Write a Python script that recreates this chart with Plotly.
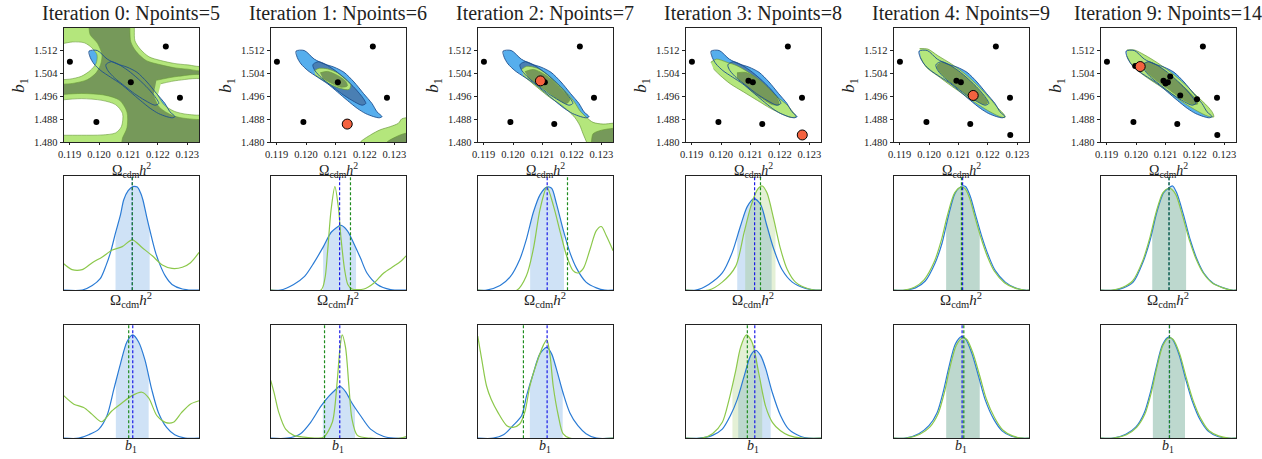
import numpy as np
import plotly.graph_objects as go

# ---------------------------------------------------------------- data
iterations = [0, 1, 2, 3, 4, 9]
npoints = [5, 6, 7, 8, 9, 14]

omega_range = [0.1188, 0.1234]
b1_range = [1.480, 1.520]
omega_ticks = [0.119, 0.120, 0.121, 0.122, 0.123]
omega_tick_labels = ["0.119", "0.120", "0.121", "0.122", "0.123"]
b1_ticks = [1.480, 1.488, 1.496, 1.504, 1.512]
b1_tick_labels = ["1.480", "1.488", "1.496", "1.504", "1.512"]

# training points in order of acquisition
points_omega = [0.11901, 0.12227, 0.12108, 0.12275, 0.11991, 0.12140, 0.12093,
                0.12276, 0.12150, 0.12116, 0.12207, 0.11997, 0.12100, 0.12014]
points_b1 = [1.5081, 1.5134, 1.5009, 1.4955, 1.4870, 1.4863, 1.5014,
             1.4825, 1.4963, 1.5029, 1.4950, 1.5066, 1.5005, 1.5064]

# reference (MCMC) 2D contours  [omega, b1]
blue95 = [[0.11966, 1.5118], [0.11994, 1.5120], [0.12028, 1.5090], [0.12062, 1.5073], [0.12095, 1.5062],
          [0.12129, 1.5044], [0.12163, 1.5010], [0.12196, 1.4969], [0.12224, 1.4935], [0.12241, 1.4906],
          [0.12258, 1.4889], [0.12249, 1.4885], [0.12230, 1.4889], [0.12202, 1.4900], [0.12174, 1.4918],
          [0.12140, 1.4946], [0.12107, 1.4975], [0.12073, 1.5004], [0.12039, 1.5027], [0.12006, 1.5050],
          [0.11983, 1.5073], [0.11970, 1.5096]]
blue68 = [[0.12025, 1.5073], [0.12042, 1.5081], [0.12064, 1.5073], [0.12099, 1.5050], [0.12133, 1.5021],
          [0.12167, 1.4987], [0.12195, 1.4952], [0.12203, 1.4935], [0.12190, 1.4929], [0.12156, 1.4946],
          [0.12121, 1.4969], [0.12087, 1.4996], [0.12053, 1.5024], [0.12030, 1.5050], [0.12023, 1.5067]]

# emulator contours, iteration 0 (95% region = everything but white holes,
# 68% region = everything but the light bands)
it0_white_holes = [
    [[0.1186, 1.5140], [0.1191, 1.5150], [0.1195, 1.5147], [0.11975, 1.5130], [0.11993, 1.5105],
     [0.1199, 1.5075], [0.1197, 1.5050], [0.1194, 1.5030], [0.1190, 1.5020], [0.1186, 1.5018]],
    [[0.1212, 1.5215], [0.1212, 1.5192], [0.12122, 1.5154], [0.1214, 1.5125], [0.1217, 1.5098],
     [0.1221, 1.5085], [0.12255, 1.5075], [0.1230, 1.5070], [0.1236, 1.5068], [0.1236, 1.5215]],
    [[0.1221, 1.5004], [0.1227, 1.5016], [0.1236, 1.5016], [0.1236, 1.4900], [0.1230, 1.4897],
     [0.12255, 1.4908], [0.1222, 1.4931], [0.1220, 1.4964]],
    [[0.1186, 1.4946], [0.1194, 1.4952], [0.1201, 1.4946], [0.12056, 1.4931], [0.1208, 1.4900],
     [0.12076, 1.4854], [0.12056, 1.4832], [0.1201, 1.4825], [0.1194, 1.4824], [0.1186, 1.4824]],
]
it0_light_regions = [
    [[0.1186, 1.5215], [0.1196, 1.5215], [0.1197, 1.5175], [0.11995, 1.5145], [0.1201, 1.5105],
     [0.12005, 1.5070], [0.1199, 1.5042], [0.1196, 1.5018], [0.1191, 1.5005], [0.1186, 1.5002]],
    [[0.12105, 1.5215], [0.12105, 1.5185], [0.12108, 1.5150], [0.12125, 1.5118], [0.1216, 1.5085],
     [0.1221, 1.5070], [0.12255, 1.5060], [0.1230, 1.5055], [0.1236, 1.5053], [0.1236, 1.5215]],
    [[0.12195, 1.5016], [0.1227, 1.5030], [0.1236, 1.5030], [0.1236, 1.4885], [0.1230, 1.4882],
     [0.1225, 1.4893], [0.12205, 1.4922], [0.12185, 1.4964]],
    [[0.1186, 1.4965], [0.1194, 1.4970], [0.1202, 1.4964], [0.1207, 1.4946], [0.12095, 1.4905],
     [0.12095, 1.4850], [0.1208, 1.4815], [0.1207, 1.4780], [0.1186, 1.4780]],
]

green95_it1 = [
    [[0.12028, 1.5050], [0.12045, 1.5058], [0.12073, 1.5056], [0.12107, 1.5042], [0.12135, 1.5021],
     [0.12152, 1.5001], [0.12146, 1.4984], [0.12118, 1.4987], [0.12084, 1.5001], [0.12051, 1.5021],
     [0.12031, 1.5035]],
    [[0.12185, 1.4790], [0.12185, 1.4800], [0.12219, 1.4825], [0.12252, 1.4843], [0.12286, 1.4854],
     [0.12314, 1.4866], [0.12325, 1.4881], [0.12340, 1.4885], [0.1236, 1.4885], [0.1236, 1.4790]],
]
green68_it1 = [
    [[0.12048, 1.5042], [0.12073, 1.5047], [0.12107, 1.5033], [0.12135, 1.5012], [0.12140, 1.4996],
     [0.12118, 1.4992], [0.12084, 1.5007], [0.12056, 1.5024]],
    [[0.12270, 1.4790], [0.12275, 1.4800], [0.12297, 1.4814], [0.12320, 1.4825], [0.12340, 1.4831],
     [0.1236, 1.4831], [0.1236, 1.4790]],
]
green95_it2 = [
    [[0.12029, 1.5054], [0.12046, 1.5065], [0.12080, 1.5059], [0.12114, 1.5039], [0.12148, 1.5007],
     [0.12182, 1.4973], [0.12210, 1.4938], [0.12227, 1.4910], [0.12250, 1.4886], [0.12272, 1.4869],
     [0.12306, 1.4863], [0.12340, 1.4866], [0.1236, 1.4866], [0.1236, 1.4790], [0.12255, 1.4790],
     [0.12250, 1.4800], [0.12238, 1.4829], [0.12227, 1.4858], [0.12210, 1.4886], [0.12187, 1.4910],
     [0.12159, 1.4933], [0.12125, 1.4956], [0.12091, 1.4984], [0.12057, 1.5013], [0.12035, 1.5034]],
]
green68_it2 = [
    [[0.12040, 1.5046], [0.12069, 1.5054], [0.12103, 1.5039], [0.12137, 1.5013], [0.12170, 1.4979],
     [0.12193, 1.4950], [0.12182, 1.4935], [0.12148, 1.4953], [0.12114, 1.4979], [0.12080, 1.5004],
     [0.12052, 1.5025]],
    [[0.12262, 1.4790], [0.12266, 1.4800], [0.12272, 1.4829], [0.12295, 1.4840], [0.12323, 1.4846],
     [0.12340, 1.4848], [0.1236, 1.4848], [0.1236, 1.4790]],
]
green95_it3 = [
    [[0.11965, 1.5079], [0.11985, 1.5090], [0.12020, 1.5079], [0.12054, 1.5067], [0.12100, 1.5039],
     [0.12145, 1.4998], [0.12191, 1.4958], [0.12225, 1.4929], [0.12248, 1.4900], [0.12254, 1.4889],
     [0.12237, 1.4886], [0.12203, 1.4900], [0.12168, 1.4918], [0.12123, 1.4946], [0.12077, 1.4975],
     [0.12031, 1.5004], [0.11997, 1.5033], [0.11974, 1.5056]],
]
green68_it3 = [
    [[0.12054, 1.5042], [0.12082, 1.5044], [0.12117, 1.5027], [0.12157, 1.4993], [0.12191, 1.4952],
     [0.12197, 1.4931], [0.12174, 1.4931], [0.12140, 1.4952], [0.12100, 1.4981], [0.12071, 1.5010],
     [0.12054, 1.5027]],
]
green95_it4 = [
    [[0.11968, 1.5127], [0.11996, 1.5125], [0.12030, 1.5102], [0.12076, 1.5073], [0.12121, 1.5039],
     [0.12167, 1.4996], [0.12207, 1.4952], [0.12235, 1.4918], [0.12256, 1.4895], [0.12258, 1.4886],
     [0.12241, 1.4889], [0.12207, 1.4906], [0.12167, 1.4931], [0.12121, 1.4964], [0.12076, 1.4996],
     [0.12030, 1.5031], [0.11990, 1.5062], [0.11971, 1.5096]],
]
green68_it4 = [
    [[0.12028, 1.5070], [0.12044, 1.5078], [0.12066, 1.5070], [0.12100, 1.5047], [0.12134, 1.5018],
     [0.12166, 1.4985], [0.12192, 1.4952], [0.12199, 1.4937], [0.12188, 1.4932], [0.12155, 1.4949],
     [0.12121, 1.4972], [0.12088, 1.4998], [0.12055, 1.5026], [0.12033, 1.5050], [0.12026, 1.5065]],
]
green95_it9 = [
    [[0.11969, 1.5122], [0.11994, 1.5122], [0.12028, 1.5105], [0.12073, 1.5077], [0.12119, 1.5043],
     [0.12164, 1.5004], [0.12209, 1.4959], [0.12243, 1.4925], [0.12260, 1.4903], [0.12264, 1.4888],
     [0.12243, 1.4891], [0.12209, 1.4908], [0.12164, 1.4936], [0.12119, 1.4970], [0.12073, 1.5001],
     [0.12028, 1.5032], [0.11988, 1.5066], [0.11969, 1.5100]],
]
green68_it9 = [
    [[0.12022, 1.5072], [0.12045, 1.5080], [0.12084, 1.5060], [0.12130, 1.5021], [0.12175, 1.4981],
     [0.12204, 1.4948], [0.12209, 1.4933], [0.12187, 1.4933], [0.12153, 1.4953], [0.12107, 1.4987],
     [0.12062, 1.5021], [0.12033, 1.5049]],
]

# 1D marginals, Omega_cdm h^2   [omega, density]
omega_blue_curves = [
    [[0.11880, 0], [0.11943, 0], [0.11977, 0.04], [0.12004, 0.10], [0.12023, 0.21], [0.12039, 0.33],
     [0.12056, 0.50], [0.12073, 0.66], [0.12084, 0.79], [0.12099, 0.87], [0.12115, 0.905], [0.12130, 0.90],
     [0.12141, 0.85], [0.12149, 0.79], [0.12162, 0.64], [0.12175, 0.50], [0.12192, 0.33], [0.12209, 0.21],
     [0.12226, 0.12], [0.12248, 0.05], [0.12283, 0.01], [0.12317, 0], [0.12340, 0]],
    [[0.11880, 0], [0.11912, 0], [0.11958, 0.05], [0.11995, 0.12], [0.12027, 0.24], [0.12059, 0.38],
     [0.12087, 0.51], [0.12119, 0.565], [0.12140, 0.52], [0.12162, 0.41], [0.12185, 0.28], [0.12207, 0.15],
     [0.12242, 0.05], [0.12287, 0.005], [0.12340, 0]],
    [[0.11880, 0], [0.11910, 0], [0.11956, 0.04], [0.11990, 0.115], [0.12023, 0.27], [0.12046, 0.45],
     [0.12069, 0.68], [0.12092, 0.835], [0.12115, 0.90], [0.12131, 0.89], [0.12147, 0.76], [0.12170, 0.53],
     [0.12193, 0.33], [0.12216, 0.19], [0.12248, 0.07], [0.12283, 0.02], [0.12312, 0], [0.12340, 0]],
    [[0.11880, 0], [0.11914, 0], [0.11958, 0.05], [0.12004, 0.15], [0.12038, 0.33], [0.12066, 0.56],
     [0.12089, 0.73], [0.12112, 0.80], [0.12134, 0.75], [0.12156, 0.56], [0.12179, 0.36], [0.12207, 0.18],
     [0.12242, 0.07], [0.12287, 0.015], [0.12322, 0], [0.12340, 0]],
    [[0.11880, 0], [0.11920, 0], [0.11954, 0.02], [0.11987, 0.08], [0.12021, 0.24], [0.12044, 0.41],
     [0.12066, 0.65], [0.12089, 0.85], [0.12112, 0.91], [0.12124, 0.905], [0.12140, 0.82], [0.12156, 0.675],
     [0.12179, 0.47], [0.12202, 0.30], [0.12225, 0.17], [0.12259, 0.07], [0.12293, 0.02], [0.12326, 0],
     [0.12340, 0]],
    [[0.11880, 0], [0.11923, 0], [0.11957, 0.02], [0.11990, 0.07], [0.12025, 0.255], [0.12048, 0.44],
     [0.12070, 0.675], [0.12093, 0.85], [0.12110, 0.89], [0.12124, 0.91], [0.12138, 0.85], [0.12161, 0.66],
     [0.12184, 0.44], [0.12207, 0.27], [0.12230, 0.15], [0.12262, 0.06], [0.12297, 0.02], [0.12326, 0],
     [0.12340, 0]],
]
omega_green_curves = [
    [[0.11880, 0.23], [0.11908, 0.18], [0.11943, 0.18], [0.11977, 0.24], [0.12011, 0.29], [0.12045, 0.35],
     [0.12079, 0.38], [0.12113, 0.44], [0.12147, 0.37], [0.12181, 0.30], [0.12215, 0.22], [0.12248, 0.19],
     [0.12283, 0.20], [0.12311, 0.24], [0.12340, 0.33]],
    [[0.11880, 0], [0.12050, 0], [0.12064, 0.10], [0.12073, 0.33], [0.12085, 0.70], [0.12098, 0.905],
     [0.12110, 0.72], [0.12119, 0.45], [0.12131, 0.18], [0.12142, 0.05], [0.12156, 0.01], [0.12197, 0.01],
     [0.12230, 0.06], [0.12264, 0.15], [0.12299, 0.21], [0.12321, 0.25], [0.12340, 0.30]],
    [[0.11880, 0], [0.12013, 0], [0.12046, 0.13], [0.12069, 0.36], [0.12092, 0.71], [0.12115, 0.90],
     [0.12138, 0.73], [0.12161, 0.50], [0.12182, 0.30], [0.12204, 0.17], [0.12220, 0.15], [0.12239, 0.19],
     [0.12262, 0.36], [0.12283, 0.52], [0.12300, 0.556], [0.12317, 0.475], [0.12340, 0.345]],
    [[0.11880, 0], [0.11958, 0], [0.12004, 0.07], [0.12050, 0.21], [0.12078, 0.50], [0.12101, 0.73],
     [0.12124, 0.88], [0.12140, 0.91], [0.12156, 0.85], [0.12179, 0.62], [0.12202, 0.36], [0.12225, 0.18],
     [0.12253, 0.07], [0.12299, 0.01], [0.12331, 0], [0.12340, 0]],
    [[0.11880, 0], [0.11915, 0], [0.11950, 0.025], [0.11983, 0.09], [0.12018, 0.25], [0.12041, 0.43],
     [0.12063, 0.66], [0.12087, 0.85], [0.12108, 0.90], [0.12121, 0.89], [0.12137, 0.81], [0.12153, 0.665],
     [0.12176, 0.46], [0.12199, 0.29], [0.12222, 0.165], [0.12256, 0.065], [0.12290, 0.02], [0.12323, 0],
     [0.12340, 0]],
    [[0.11880, 0], [0.11920, 0], [0.11955, 0.025], [0.11988, 0.08], [0.12023, 0.26], [0.12046, 0.45],
     [0.12068, 0.68], [0.12091, 0.85], [0.12110, 0.89], [0.12122, 0.88], [0.12136, 0.83], [0.12159, 0.64],
     [0.12182, 0.43], [0.12205, 0.265], [0.12228, 0.15], [0.12260, 0.06], [0.12295, 0.02], [0.12324, 0],
     [0.12340, 0]],
]
omega_band_blue = [[0.12056, 0.12172], [0.12058, 0.12170], [0.12058, 0.12173],
                   [0.12055, 0.12172], [0.12058, 0.12172], [0.12055, 0.12170]]
omega_band_green = [None, None, None, [0.12082, 0.12185], [0.12058, 0.12172], [0.12055, 0.12170]]
omega_mean_blue = [0.12113, 0.12114, 0.12116, 0.12114, 0.12114, 0.12112]
omega_mean_green = [0.12113, 0.12151, 0.12185, 0.12134, 0.12110, 0.12112]

# 1D marginals, b1   [b1, density]
b1_blue_curves = [
    [[1.4800, 0], [1.4844, 0], [1.4874, 0.03], [1.4904, 0.08], [1.4928, 0.20], [1.4948, 0.43], [1.4968, 0.66],
     [1.4987, 0.85], [1.5004, 0.91], [1.5021, 0.85], [1.5040, 0.69], [1.5060, 0.43], [1.5080, 0.225],
     [1.5104, 0.095], [1.5128, 0.03], [1.5159, 0], [1.5200, 0]],
    [[1.4800, 0], [1.4848, 0], [1.4888, 0.04], [1.4918, 0.14], [1.4948, 0.28], [1.4972, 0.37], [1.4996, 0.44],
     [1.5004, 0.46], [1.5021, 0.41], [1.5040, 0.31], [1.5065, 0.20], [1.5095, 0.08], [1.5134, 0.015],
     [1.5164, 0], [1.5200, 0]],
    [[1.4800, 0], [1.4846, 0], [1.4876, 0.03], [1.4904, 0.11], [1.4930, 0.20], [1.4944, 0.37], [1.4964, 0.57],
     [1.4984, 0.745], [1.5004, 0.80], [1.5018, 0.745], [1.5032, 0.615], [1.5052, 0.40], [1.5072, 0.225],
     [1.5096, 0.11], [1.5120, 0.04], [1.5151, 0], [1.5200, 0]],
    [[1.4800, 0], [1.4840, 0], [1.4879, 0.025], [1.4908, 0.08], [1.4932, 0.20], [1.4952, 0.34], [1.4972, 0.54],
     [1.4992, 0.73], [1.5006, 0.775], [1.5021, 0.73], [1.5036, 0.615], [1.5056, 0.40], [1.5080, 0.20],
     [1.5104, 0.08], [1.5140, 0.015], [1.5164, 0], [1.5200, 0]],
    [[1.4800, 0], [1.4834, 0], [1.4874, 0.04], [1.4904, 0.11], [1.4928, 0.225], [1.4948, 0.43], [1.4962, 0.615],
     [1.4982, 0.83], [1.5000, 0.895], [1.5012, 0.875], [1.5031, 0.745], [1.5051, 0.54], [1.5070, 0.34],
     [1.5095, 0.17], [1.5120, 0.065], [1.5148, 0.017], [1.5178, 0], [1.5200, 0]],
    [[1.4800, 0], [1.4836, 0], [1.4874, 0.035], [1.4904, 0.10], [1.4928, 0.22], [1.4948, 0.42], [1.4962, 0.60],
     [1.4982, 0.82], [1.5000, 0.89], [1.5012, 0.87], [1.5031, 0.74], [1.5050, 0.53], [1.5070, 0.33],
     [1.5094, 0.16], [1.5118, 0.06], [1.5146, 0.015], [1.5176, 0], [1.5200, 0]],
]
b1_green_curves = [
    [[1.4800, 0.375], [1.4830, 0.30], [1.4859, 0.27], [1.4884, 0.21], [1.4912, 0.145], [1.4942, 0.24],
     [1.4972, 0.31], [1.5002, 0.375], [1.5031, 0.405], [1.5051, 0.355], [1.5075, 0.20], [1.5100, 0.14],
     [1.5124, 0.14], [1.5148, 0.225], [1.5174, 0.30], [1.5200, 0.33]],
    [[1.4800, 0.51], [1.4810, 0.40], [1.4824, 0.225], [1.4844, 0.08], [1.4868, 0.025], [1.4898, 0.01],
     [1.4938, 0], [1.4957, 0.01], [1.4982, 0.14], [1.4996, 0.485], [1.5004, 0.775], [1.5011, 0.91],
     [1.5021, 0.80], [1.5031, 0.46], [1.5040, 0.17], [1.5056, 0.025], [1.5095, 0], [1.5184, 0], [1.5200, 0.015]],
    [[1.4800, 0.90], [1.4812, 0.69], [1.4826, 0.46], [1.4840, 0.34], [1.4860, 0.225], [1.4886, 0.11],
     [1.4904, 0.095], [1.4924, 0.125], [1.4940, 0.24], [1.4954, 0.46], [1.4974, 0.66], [1.4994, 0.82],
     [1.5004, 0.867], [1.5013, 0.745], [1.5023, 0.46], [1.5038, 0.20], [1.5052, 0.04], [1.5072, 0], [1.5200, 0]],
    [[1.4800, 0], [1.4848, 0], [1.4879, 0.04], [1.4908, 0.14], [1.4928, 0.34], [1.4948, 0.60], [1.4962, 0.80],
     [1.4979, 0.91], [1.4996, 0.845], [1.5016, 0.57], [1.5036, 0.28], [1.5056, 0.14], [1.5080, 0.065],
     [1.5104, 0.025], [1.5144, 0], [1.5200, 0]],
    [[1.4800, 0], [1.4838, 0], [1.4877, 0.035], [1.4907, 0.10], [1.4931, 0.215], [1.4951, 0.42], [1.4965, 0.61],
     [1.4985, 0.82], [1.5004, 0.885], [1.5016, 0.87], [1.5034, 0.75], [1.5054, 0.55], [1.5073, 0.35],
     [1.5098, 0.18], [1.5123, 0.07], [1.5151, 0.02], [1.5181, 0], [1.5200, 0]],
    [[1.4800, 0], [1.4838, 0], [1.4876, 0.03], [1.4906, 0.095], [1.4930, 0.21], [1.4950, 0.41], [1.4964, 0.60],
     [1.4984, 0.82], [1.5002, 0.885], [1.5014, 0.87], [1.5033, 0.745], [1.5052, 0.54], [1.5072, 0.34],
     [1.5096, 0.17], [1.5120, 0.065], [1.5148, 0.02], [1.5178, 0], [1.5200, 0]],
]
b1_band_blue = [[1.4954, 1.5051], [1.4954, 1.5049], [1.4954, 1.5051],
                [1.4955, 1.5051], [1.4955, 1.5054], [1.4954, 1.5049]]
b1_band_green = [None, None, None, [1.4938, 1.5026], [1.4955, 1.5054], [1.4954, 1.5049]]
b1_mean_blue = [1.5004, 1.5004, 1.5005, 1.5004, 1.5002, 1.5003]
b1_mean_green = [1.4992, 1.4959, 1.4935, 1.4982, 1.5007, 1.5003]

# ---------------------------------------------------------------- style / layout
W, H = 1262, 459
col_left = [58, 266, 474, 683, 892, 1100]
col_width = 136
row_top = [28, 178, 329]
row_bottom = [144, 294, 444]

FONT = "Liberation Serif"
C_BLUE95 = "#56aeed"
C_BLUE68 = "#4a7fb3"
C_BLUE_LINE = "#1d4f8f"
C_GREEN95 = "#b4e67c"
C_GREEN68 = "#76995a"
C_GREEN_LINE = "#6a9a3a"
C_CURVE_BLUE = "#2a7bd5"
C_CURVE_GREEN = "#8cc84b"
C_BAND_BLUE = "rgba(95,158,225,0.30)"
C_BAND_GREEN = "rgba(120,180,50,0.20)"
C_DASH_BLUE = "#1a1ae6"
C_DASH_GREEN = "#1e8c1e"
C_RED = "#f4623f"
C_FRAME = "#222222"

fig = go.Figure()


def names(k):
    s = "" if k == 1 else str(k)
    return "x" + s, "y" + s, "xaxis" + s, "yaxis" + s


def signed_area(poly):
    x = np.array([p[0] for p in poly])
    y = np.array([p[1] for p in poly])
    return 0.5 * np.sum(x * np.roll(y, -1) - np.roll(x, -1) * y)


def oriented(poly, ccw):
    a = signed_area(poly)
    return poly if (a > 0) == ccw else poly[::-1]


def multi(polys):
    xs, ys = [], []
    for p in polys:
        xs += [q[0] for q in p] + [None]
        ys += [q[1] for q in p] + [None]
    return xs, ys


def add_fill(polys, k, fillcolor, linecolor=None, width=0.0):
    xn, yn, _, _ = names(k)
    xs, ys = multi(polys)
    fig.add_trace(go.Scatter(
        x=xs, y=ys, mode="lines", fill="toself", fillcolor=fillcolor,
        line=dict(color=linecolor or fillcolor, width=width, shape="spline", smoothing=0.8),
        xaxis=xn, yaxis=yn, hoverinfo="skip"))


def add_outline(poly, k, color, width):
    xn, yn, _, _ = names(k)
    pts = poly + [poly[0]]
    fig.add_trace(go.Scatter(
        x=[p[0] for p in pts], y=[p[1] for p in pts], mode="lines",
        line=dict(color=color, width=width, shape="spline", smoothing=0.8),
        xaxis=xn, yaxis=yn, hoverinfo="skip"))


green95_by_iter = [None, green95_it1, green95_it2, green95_it3, green95_it4, green95_it9]
green68_by_iter = [None, green68_it1, green68_it2, green68_it3, green68_it4, green68_it9]

# outer frame used to punch holes in iteration 0 (built from the axis ranges)
ow = omega_range[1] - omega_range[0]
bw = b1_range[1] - b1_range[0]
outer = [[omega_range[0] - 0.1 * ow, b1_range[0] - 0.1 * bw], [omega_range[1] + 0.1 * ow, b1_range[0] - 0.1 * bw],
         [omega_range[1] + 0.1 * ow, b1_range[1] + 0.1 * bw], [omega_range[0] - 0.1 * ow, b1_range[1] + 0.1 * bw]]

# ---------------- row 1: 2D contours
for c in range(6):
    k = c + 1
    xn, yn, _, _ = names(k)
    add_fill([blue95], k, C_BLUE95)
    add_fill([blue68], k, C_BLUE68)
    if c == 0:
        polys95 = [oriented(outer, True)] + [oriented(h, False) for h in it0_white_holes]
        polys68 = [oriented(outer, True)] + [oriented(h, False) for h in it0_light_regions]
        add_fill(polys95, k, C_GREEN95, C_GREEN_LINE, 0.6)
        add_fill(polys68, k, C_GREEN68, C_GREEN_LINE, 0.6)
    else:
        add_fill(green95_by_iter[c], k, C_GREEN95, C_GREEN_LINE, 0.7)
        add_fill(green68_by_iter[c], k, C_GREEN68, C_GREEN_LINE, 0.7)
    add_outline(blue95, k, C_BLUE_LINE, 0.9)
    add_outline(blue68, k, C_BLUE_LINE, 0.9)
    n = npoints[c]
    nb = n if iterations[c] == 0 else n - 1
    fig.add_trace(go.Scatter(x=points_omega[:nb], y=points_b1[:nb], mode="markers",
                             marker=dict(color="black", size=6), xaxis=xn, yaxis=yn, hoverinfo="skip"))
    if iterations[c] != 0:
        fig.add_trace(go.Scatter(x=[points_omega[n - 1]], y=[points_b1[n - 1]], mode="markers",
                                 marker=dict(color=C_RED, size=10, line=dict(color="black", width=1)),
                                 xaxis=xn, yaxis=yn, hoverinfo="skip"))


# ---------------- rows 2 & 3: 1D marginals
def band(curve, lo, hi):
    xs = np.array([p[0] for p in curve])
    ys = np.array([p[1] for p in curve])
    inside = (xs > lo) & (xs < hi)
    bx = [lo] + list(xs[inside]) + [hi]
    by = [float(np.interp(lo, xs, ys))] + list(ys[inside]) + [float(np.interp(hi, xs, ys))]
    return bx, by


def add_1d(k, blue, green, bband, gband, mb, mg):
    xn, yn, _, _ = names(k)
    for crv, bd, col in [(blue, bband, C_BAND_BLUE), (green, gband, C_BAND_GREEN)]:
        if bd is not None:
            bx, by = band(crv, bd[0], bd[1])
            fig.add_trace(go.Scatter(x=bx, y=by, mode="lines", fill="tozeroy", fillcolor=col,
                                     line=dict(width=0, shape="spline", smoothing=0.8),
                                     xaxis=xn, yaxis=yn, hoverinfo="skip"))
    for crv, col in [(blue, C_CURVE_BLUE), (green, C_CURVE_GREEN)]:
        fig.add_trace(go.Scatter(x=[p[0] for p in crv], y=[p[1] for p in crv], mode="lines",
                                 line=dict(color=col, width=1.2, shape="spline", smoothing=0.8),
                                 xaxis=xn, yaxis=yn, hoverinfo="skip"))
    for m, col in [(mb, C_DASH_BLUE), (mg, C_DASH_GREEN)]:
        fig.add_trace(go.Scatter(x=[m, m], y=[0, 1], mode="lines",
                                 line=dict(color=col, width=1.2, dash="3px,2px"),
                                 xaxis=xn, yaxis=yn, hoverinfo="skip"))


for c in range(6):
    add_1d(7 + c, omega_blue_curves[c], omega_green_curves[c], omega_band_blue[c], omega_band_green[c],
           omega_mean_blue[c], omega_mean_green[c])
    add_1d(13 + c, b1_blue_curves[c], b1_green_curves[c], b1_band_blue[c], b1_band_green[c],
           b1_mean_blue[c], b1_mean_green[c])

# ---------------- axes
layout = dict(width=W, height=H, margin=dict(l=0, r=0, t=0, b=0), paper_bgcolor="white",
              plot_bgcolor="white", showlegend=False)
tickfont = dict(family=FONT, size=10.5, color="#222")
for r in range(3):
    for c in range(6):
        k = r * 6 + c + 1
        xn, yn, xa, ya = names(k)
        xd = [col_left[c] / W, (col_left[c] + col_width) / W]
        yd = [1 - row_bottom[r] / H, 1 - row_top[r] / H]
        base = dict(showline=True, mirror=True, linecolor=C_FRAME, linewidth=1.2, showgrid=False,
                    zeroline=False, fixedrange=True)
        if r == 0:
            layout[xa] = dict(base, domain=xd, anchor=yn, range=omega_range, tickmode="array",
                              tickvals=omega_ticks, ticktext=omega_tick_labels, ticks="outside",
                              ticklen=2, tickwidth=1, tickcolor=C_FRAME, tickfont=tickfont)
            layout[ya] = dict(base, domain=yd, anchor=xn, range=b1_range, tickmode="array",
                              tickvals=b1_ticks, ticktext=b1_tick_labels, ticks="outside",
                              ticklen=3, tickwidth=1, tickcolor=C_FRAME, tickfont=tickfont)
        else:
            layout[xa] = dict(base, domain=xd, anchor=yn,
                              range=omega_range if r == 1 else b1_range, showticklabels=False, ticks="")
            layout[ya] = dict(base, domain=yd, anchor=xn, range=[0, 1], showticklabels=False, ticks="")

omega_label = "Ω<sub>cdm</sub><i>h</i><sup>2</sup>"
b1_label = "<i>b</i><sub>1</sub>"
ann = []
for c in range(6):
    xc = (col_left[c] + col_width / 2) / W
    ann.append(dict(text=f"Iteration {iterations[c]}: Npoints={npoints[c]}", x=xc, y=1 - 14 / H,
                    xref="paper", yref="paper", showarrow=False, xanchor="center", yanchor="middle",
                    font=dict(family=FONT, size=20, color="#222")))
    ann.append(dict(text=omega_label, x=xc, y=1 - 172 / H, xref="paper", yref="paper", showarrow=False,
                    xanchor="center", yanchor="middle", font=dict(family=FONT, size=14, color="#222")))
    ann.append(dict(text=b1_label, x=(col_left[c] - 44) / W, y=1 - 86 / H, xref="paper", yref="paper",
                    showarrow=False, xanchor="center", yanchor="middle", textangle=-90,
                    font=dict(family=FONT, size=17, color="#222")))
    ann.append(dict(text=omega_label, x=xc, y=1 - 304 / H, xref="paper", yref="paper", showarrow=False,
                    xanchor="center", yanchor="middle", font=dict(family=FONT, size=15, color="#222")))
    ann.append(dict(text=b1_label, x=xc, y=1 - 452 / H, xref="paper", yref="paper", showarrow=False,
                    xanchor="center", yanchor="middle", font=dict(family=FONT, size=14, color="#222")))
layout["annotations"] = ann

fig.update_layout(**layout)
fig.write_html("out.html")
